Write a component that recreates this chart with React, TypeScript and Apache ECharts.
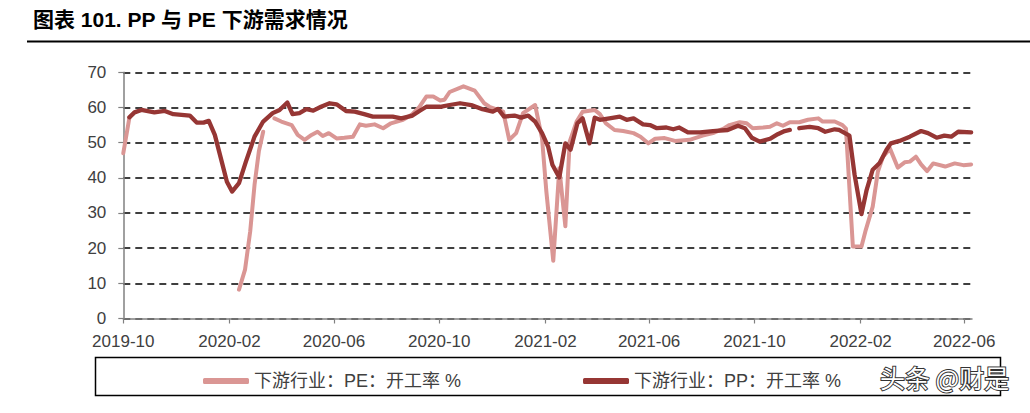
import React, { useEffect, useRef } from "react";
import * as echarts from "echarts";

const titleText = "图表 101. PP 与 PE 下游需求情况";
const seriesNames = ["下游行业：PE：开工率 %", "下游行业：PP：开工率 %"];
const tickLabels = ["2019-10", "2020-02", "2020-06", "2020-10", "2021-02", "2021-06", "2021-10", "2022-02", "2022-06"];
const axisStart = "2019-10-01";
const axisEnd = "2022-06-10";
const yMin = 0;
const yMax = 70;
const yStep = 10;

const peDates = [
  "2019-10-01", "2019-10-08", "2019-11-15",
  "2020-02-12", "2020-02-19", "2020-02-25", "2020-03-01", "2020-03-06", "2020-03-11", "2020-03-17",
  "2020-03-24", "2020-04-01", "2020-04-13", "2020-04-20", "2020-04-28", "2020-05-06", "2020-05-13", "2020-05-19",
  "2020-05-26", "2020-06-04", "2020-06-13", "2020-06-23", "2020-07-01", "2020-07-08", "2020-07-18", "2020-07-28",
  "2020-08-06", "2020-08-20", "2020-08-30", "2020-09-08", "2020-09-16", "2020-09-24", "2020-10-02", "2020-10-07",
  "2020-10-13", "2020-10-29", "2020-11-11", "2020-11-22", "2020-11-28", "2020-12-14", "2020-12-21", "2020-12-29",
  "2021-01-06", "2021-01-20", "2021-01-28", "2021-02-02", "2021-02-10", "2021-02-17", "2021-02-24", "2021-03-01",
  "2021-03-09", "2021-03-16", "2021-03-30", "2021-04-05", "2021-04-12", "2021-04-22", "2021-05-02", "2021-05-14",
  "2021-05-22", "2021-05-31", "2021-06-08", "2021-06-19", "2021-07-01", "2021-07-18", "2021-08-02", "2021-08-14",
  "2021-08-27", "2021-09-02", "2021-09-14", "2021-09-22", "2021-09-29", "2021-10-11", "2021-10-19", "2021-10-27",
  "2021-11-03", "2021-11-11", "2021-11-22", "2021-12-02", "2021-12-14", "2021-12-19", "2022-01-02", "2022-01-11",
  "2022-01-15", "2022-01-23", "2022-02-02", "2022-02-07", "2022-02-15", "2022-02-21", "2022-02-27", "2022-03-07",
  "2022-03-16", "2022-03-24", "2022-03-30", "2022-04-06", "2022-04-12", "2022-04-19", "2022-04-26", "2022-05-10",
  "2022-05-21", "2022-05-31", "2022-06-09",
];
const peValues = [
  47, 57, null,
  8.2, 13.9, 24.8, 38, 47.5, 53.1, null,
  56.9, 56, 55, 52.2, 50.8, 52.2, 53.1, 51.9,
  52.7, 51.2, 51.4, 51.7, 55.2, 54.8, 55.2, 54.1,
  55.5, 56.5, 57.9, 60.2, 63.1, 63.1, 62, 62.2,
  64.4, 66, 64.8, 61.2, 60.2, 58.8, 50.8, 52.7,
  58.4, 60.7, 51.2, 36.1, 16.4, 42.7, 26.2, 50.3,
  56, 58.8, 59.3, 58.1, 55.5, 53.6, 53.3, 52.7,
  51.7, 49.8, 51.1, 51.3, 50.5, 50.8, 52, 52.7,
  54.1, 55, 55.8, 55.5, 54.1, 54.3, 54.5, 55.5,
  54.8, 55.8, 55.8, 56.5, 56.9, 56, 56, 55,
  54, 20.5, 20.5, 25.2, 31.8, 41.8, 46, 48.3,
  42.9, 44.4, 44.6, 46, 43.8, 41.9, 44.1, 43.2,
  44.1, 43.6, 43.8,
];

const ppDates = [
  "2019-10-08", "2019-10-14", "2019-10-22", "2019-11-06", "2019-11-18", "2019-11-28", "2019-12-17", "2019-12-25",
  "2020-01-02", "2020-01-08", "2020-01-15", "2020-01-23", "2020-01-29", "2020-02-04", "2020-02-12", "2020-02-20",
  "2020-03-01", "2020-03-11", "2020-03-22", "2020-03-30", "2020-04-08", "2020-04-14", "2020-04-22", "2020-04-30",
  "2020-05-08", "2020-05-17", "2020-05-27", "2020-06-04", "2020-06-15", "2020-06-25", "2020-07-06", "2020-07-16",
  "2020-07-24", "2020-08-08", "2020-08-18", "2020-08-31", "2020-09-08", "2020-09-16", "2020-10-02", "2020-10-13",
  "2020-10-25", "2020-11-07", "2020-11-20", "2020-12-02", "2020-12-08", "2020-12-15", "2020-12-27", "2021-01-04",
  "2021-01-12", "2021-01-20", "2021-01-28", "2021-02-04", "2021-02-09", "2021-02-17", "2021-02-24", "2021-03-02",
  "2021-03-10", "2021-03-16", "2021-03-24", "2021-03-30", "2021-04-05", "2021-04-16", "2021-04-28", "2021-05-06",
  "2021-05-14", "2021-05-25", "2021-06-02", "2021-06-10", "2021-06-21", "2021-06-29", "2021-07-06", "2021-07-16",
  "2021-07-30", "2021-08-14", "2021-08-31", "2021-09-12", "2021-09-20", "2021-09-28", "2021-10-07", "2021-10-19",
  "2021-10-28", "2021-11-05", "2021-11-11", "2021-11-16", "2021-11-22", "2021-12-04", "2021-12-14", "2021-12-22",
  "2022-01-02", "2022-01-07", "2022-01-19", "2022-01-25", "2022-02-02", "2022-02-08", "2022-02-15", "2022-02-23",
  "2022-03-03", "2022-03-08", "2022-03-18", "2022-03-30", "2022-04-12", "2022-04-20", "2022-04-30", "2022-05-09",
  "2022-05-17", "2022-05-25", "2022-06-09",
];
const ppValues = [
  57.2, 58.6, 59.3, 58.6, 59, 58.1, 57.7, 55.7,
  55.7, 56.2, 52.2, 44.6, 38.9, 36.1, 38.5, 44.6,
  51.7, 56, 58.4, 59.3, 61.4, 58.1, 58.4, 59.5,
  59.1, 60.2, 61.2, 60.9, 59, 58.8, 58.1, 57.4,
  57.4, 57.4, 56.9, 57.7, 59, 60.2, 60.2, 60.7,
  61.2, 60.7, 59.5, 58.8, 59.6, 57.4, 57.7, 57.1,
  57.7, 56, 52.7, 48.9, 43.7, 40.1, 49.8, 48,
  55.5, 56.9, 49.8, 57.1, 56.5, 56.9, 57.4, 56.5,
  56.9, 55.2, 55, 54.1, 54.3, 53.8, 54.3, 52.9,
  52.9, 53.3, 53.6, 54.8, 54.1, 51.4, 50.3, 51.1,
  52.4, 53.3, 53.6, null, 54.1, 54.5, 54.1, 53.1,
  53.8, 53.6, 52, 40.9, 29.7, 36.6, 42.3, 44.2,
  48, 49.8, 50.5, 51.7, 53.3, 52.7, 51.4, 52,
  51.7, 53.1, 52.9,
];

const PE_COLOR = "#DA9694";
const PP_COLOR = "#963634";

function ts(s: string): number {
  const [y, m, d] = s.split("-").map(Number);
  return Date.UTC(y, m - 1, d || 1);
}

function fmtMonth(v: number): string {
  const d = new Date(v);
  return `${d.getUTCFullYear()}-${String(d.getUTCMonth() + 1).padStart(2, "0")}`;
}

export default function App() {
  const ref = useRef<HTMLDivElement>(null);
  useEffect(() => {
    if (!ref.current) return;
    const chart = echarts.init(ref.current, null, { renderer: "svg" });
    const tickTs = tickLabels.map(ts);
    const peData = peDates.map((d, i) => [ts(d), peValues[i]]);
    const ppData = ppDates.map((d, i) => [ts(d), ppValues[i]]);
    const font = "'Liberation Sans', Arial, 'Noto Sans CJK SC', sans-serif";
    chart.setOption({
      animation: false,
      backgroundColor: "#ffffff",
      grid: {
        left: 123.3,
        right: 58,
        top: 72.3,
        bottom: 94.5,
        containLabel: false,
      },
      legend: {
        show: true,
        left: 198,
        top: 367,
        icon: "roundRect",
        itemWidth: 46,
        itemHeight: 6,
        itemGap: 122,
        textStyle: { fontSize: 18, color: "#404040", fontFamily: font },
        data: seriesNames,
      },
      xAxis: {
        type: "value",
        min: ts(axisStart),
        max: ts(axisEnd),
        scale: true,
        splitLine: { show: false },
        axisLine: { show: true, lineStyle: { color: "#808080", width: 1.5 } },
        axisTick: {
          show: true,
          length: 5,
          customValues: tickTs,
          lineStyle: { color: "#808080", width: 1.2 },
        },
        axisLabel: {
          customValues: tickTs,
          formatter: (v: number) => fmtMonth(v),
          fontSize: 17,
          color: "#404040",
          margin: 14,
          fontFamily: font,
        },
      },
      yAxis: {
        type: "value",
        min: yMin,
        max: yMax,
        interval: yStep,
        axisLine: { show: true, lineStyle: { color: "#808080", width: 1.5 } },
        axisTick: { show: true, length: 5, lineStyle: { color: "#808080", width: 1.2 } },
        axisLabel: { fontSize: 17, color: "#404040", margin: 17, fontFamily: font },
        splitLine: {
          show: true,
          lineStyle: { color: "#000000", width: 1.5, type: [7, 5] },
        },
      },
      series: [
        {
          name: seriesNames[0],
          type: "line",
          data: peData,
          symbol: "none",
          connectNulls: false,
          lineStyle: { color: PE_COLOR, width: 4, cap: "round", join: "round" },
          itemStyle: { color: PE_COLOR },
          z: 2,
        },
        {
          name: seriesNames[1],
          type: "line",
          data: ppData,
          symbol: "none",
          connectNulls: false,
          lineStyle: { color: PP_COLOR, width: 4.3, cap: "round", join: "round" },
          itemStyle: { color: PP_COLOR },
          z: 3,
        },
      ],
      graphic: [
        {
          type: "text",
          left: 33,
          top: 9,
          style: {
            text: titleText,
            fontSize: 21,
            fontWeight: "bold",
            fill: "#000000",
            fontFamily: "'Liberation Sans', 'Noto Sans CJK SC', sans-serif",
          },
        },
        {
          type: "rect",
          shape: { x: 27, y: 40.5, width: 1003, height: 2 },
          style: { fill: "#000000" },
        },
        {
          type: "rect",
          shape: { x: 95.5, y: 357.5, width: 905, height: 38 },
          style: { fill: "none", stroke: "#000000", lineWidth: 1.5 },
        },
        {
          type: "text",
          left: 879,
          top: 363,
          z: 100,
          style: {
            text: "头条 @财是",
            fontSize: 25,
            fill: "#ffffff",
            stroke: "#333333",
            lineWidth: 2,
            fontFamily: "'Noto Sans CJK SC', sans-serif",
          },
        },
      ],
    });
    return () => chart.dispose();
  }, []);
  return (
    <div
      ref={ref}
      style={{ position: "fixed", left: 0, top: 0, width: 1030, height: 413 }}
    />
  );
}
